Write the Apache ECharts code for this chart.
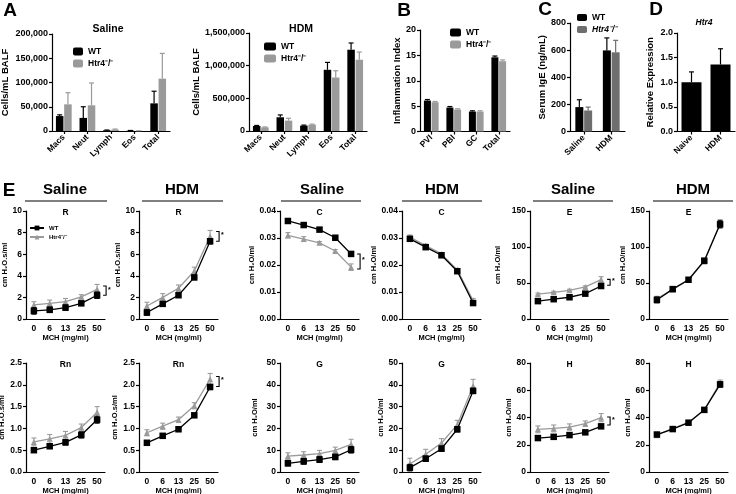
<!DOCTYPE html>
<html><head><meta charset="utf-8">
<script src="https://cdn.jsdelivr.net/npm/echarts@6/dist/echarts.min.js"></script>
<style>html,body{margin:0;padding:0;background:#fff}#c{width:736px;height:494px}</style>
</head><body><div id="c"></div><script>
// ---------------- DATA ----------------
// Panel A (cells / mL BALF)
const cellCats = ['Macs', 'Neut', 'Lymph', 'Eos', 'Total'];
const salineWT = [30800, 27000, 1500, 800, 57000];
const salineWTErr = [2500, 23000, 500, 300, 25000];
const salineKO = [55000, 53000, 3000, 300, 108000];
const salineKOErr = [24000, 46000, 1000, 200, 52000];
const hdmWT = [77000, 210000, 82000, 937000, 1244000];
const hdmWTErr = [8000, 36000, 8000, 113000, 103000];
const hdmKO = [56000, 159000, 97000, 819000, 1091000];
const hdmKOErr = [6000, 36000, 8000, 103000, 117000];
// Panel B (inflammation index)
const inflCats = ['PVI', 'PBI', 'GC', 'Total'];
const inflWT = [6.1, 4.72, 3.93, 14.62];
const inflWTErr = [0.2, 0.2, 0.15, 0.25];
const inflKO = [5.77, 4.33, 3.93, 13.85];
const inflKOErr = [0.15, 0.15, 0.15, 0.25];
// Panel C (serum IgE)
const igeCats = ['Saline', 'HDM'];
const igeWT = [180, 598];
const igeWTErr = [54, 92];
const igeKO = [155, 584];
const igeKOErr = [25, 88];
// Panel D (Htr4 relative expression)
const exprCats = ['Naive', 'HDM'];
const expr = [1.0, 1.36];
const exprErr = [0.21, 0.32];
// Panel E (lung mechanics vs MCH dose)
const mchDoses = ['0', '6', '13', '25', '50'];
const rSalWT = [0.75, 0.85, 1.05, 1.45, 2.2],   rSalWTErr = [0.3, 0.25, 0.25, 0.2, 0.3];
const rSalKO = [1.3, 1.45, 1.6, 2.05, 2.75],    rSalKOErr = [0.3, 0.3, 0.3, 0.2, 0.45];
const rHdmWT = [0.6, 1.4, 2.2, 3.85, 7.2],      rHdmWTErr = [0.25, 0.2, 0.15, 0.2, 0.25];
const rHdmKO = [1.2, 2.0, 2.85, 4.45, 7.65],    rHdmKOErr = [0.35, 0.35, 0.3, 0.35, 0.55];
const cSalWT = [0.0363, 0.0348, 0.0331, 0.0301, 0.0241], cSalWTErr = [0.0005, 0.0005, 0.0004, 0.0004, 0.0008];
const cSalKO = [0.031, 0.0296, 0.0282, 0.0252, 0.0192],  cSalKOErr = [0.001, 0.0009, 0.0005, 0.0005, 0.0012];
const cHdmWT = [0.0297, 0.0266, 0.0236, 0.0177, 0.0059], cHdmWTErr = [0.0007, 0.0005, 0.0005, 0.0006, 0.0008];
const cHdmKO = [0.0303, 0.0272, 0.0241, 0.0182, 0.0068], cHdmKOErr = [0.0008, 0.0005, 0.0005, 0.0005, 0.0008];
const eSalWT = [24.8, 27.5, 30.2, 35.2, 45.8],  eSalWTErr = [1.5, 1.5, 1.5, 1.5, 2];
const eSalKO = [34.5, 37, 39.8, 44.5, 54.8],    eSalKOErr = [1.5, 1.5, 1.5, 1.5, 4];
const eHdmWT = [26.5, 41.5, 54.5, 81, 131.5],   eHdmWTErr = [4, 3, 3, 3, 5];
const eHdmKO = [28.5, 41, 54, 80, 133],         eHdmKOErr = [3, 3, 3, 3, 5];
const rnSalWT = [0.5, 0.59, 0.68, 0.85, 1.2],   rnSalWTErr = [0.05, 0.05, 0.06, 0.07, 0.08];
const rnSalKO = [0.69, 0.76, 0.84, 1.02, 1.37], rnSalKOErr = [0.09, 0.1, 0.09, 0.08, 0.13];
const rnHdmWT = [0.67, 0.83, 0.98, 1.3, 1.95],  rnHdmWTErr = [0.04, 0.04, 0.03, 0.04, 0.06];
const rnHdmKO = [0.9, 1.05, 1.2, 1.52, 2.13],   rnHdmKOErr = [0.07, 0.07, 0.06, 0.07, 0.13];
const gSalWT = [4.0, 4.9, 5.7, 6.9, 10.2],      gSalWTErr = [1.2, 1.3, 1.3, 1.2, 1.5];
const gSalKO = [7.3, 7.8, 8.4, 9.9, 12.7],      gSalKOErr = [1.5, 1.5, 1.5, 1.5, 2.3];
const gHdmWT = [2.0, 6.1, 10.7, 19.6, 37.2],    gHdmWTErr = [1.5, 1.2, 1.2, 1.2, 1.2];
const gHdmKO = [3.8, 8.1, 13.3, 21.7, 39.5],    gHdmKOErr = [2.5, 2.3, 2, 2, 3];
const hSalWT = [24.9, 25.8, 27.1, 29.1, 33.5],  hSalWTErr = [1.5, 1.5, 1.2, 1.2, 1.5];
const hSalKO = [31.3, 32.0, 33.0, 35.5, 39.9],  hSalKOErr = [2.5, 2.5, 2.3, 2, 3];
const hHdmWT = [27.5, 31.5, 36.2, 45.6, 64.3],  hHdmWTErr = [1.5, 1, 1, 1, 2];
const hHdmKO = [27, 32, 36.3, 45.5, 65.5],      hHdmKOErr = [1.5, 1, 1, 1, 2];
// significance brackets (value range spanned at the 50 mg/ml dose)
const rSalSig = [2.2, 3.05];
const rHdmSig = [7.2, 8.1];
const cSalSig = [0.0185, 0.0241];
const eSalSig = [46.8, 55];
const rnHdmSig = [1.96, 2.19];
const hSalSig = [34.5, 40.4];

// ---------------- BUILD ----------------
const FONT = 'Liberation Sans';
const grids = [], xAxes = [], yAxes = [], series = [], graphics = [];
const AX = {lineStyle: {color: '#000', width: 1.2}};

function addGrid(left, top, width, height) {
  grids.push({left, top, width, height, outerBoundsMode: 'none', containLabel: false});
  return grids.length - 1;
}
function yAxisDef(gi, min, max, interval, fmt, name, nameGap, nameSize, lblSize) {
  return {
    type: 'value', gridIndex: gi, min, max, interval,
    splitLine: {show: false},
    axisLine: {show: true, ...AX},
    axisTick: {show: true, length: 3, lineStyle: {color: '#000', width: 1.2}},
    axisLabel: {formatter: fmt, color: '#000', fontSize: lblSize, fontWeight: 'bold', fontFamily: FONT, margin: 4},
    name, nameLocation: 'middle', nameGap,
    nameTextStyle: {color: '#000', fontSize: nameSize, fontWeight: 'bold', fontFamily: FONT}
  };
}
function barErr(off, color, cap) {
  return function (params, api) {
    const i = api.value(0), v = api.value(1), e = api.value(2);
    const p0 = api.coord([i, v]), p1 = api.coord([i, v + e]);
    const x = p0[0] + off;
    return {type: 'group', children: [
      {type: 'line', shape: {x1: x, y1: p0[1], x2: x, y2: p1[1]}, style: {stroke: color, lineWidth: 1.2}},
      {type: 'line', shape: {x1: x - cap, y1: p1[1], x2: x + cap, y2: p1[1]}, style: {stroke: color, lineWidth: 1.2}}
    ]};
  };
}
function barPanel(gi, cats, groups, barWidth, yDef) {
  xAxes.push({
    type: 'category', gridIndex: gi, data: cats,
    axisLine: {show: true, ...AX},
    axisTick: {show: true, alignWithLabel: true, length: 3, lineStyle: {color: '#000', width: 1.2}},
    axisLabel: {rotate: 45, interval: 0, color: '#000', fontSize: 8.5, fontWeight: 'bold', fontFamily: FONT, margin: 5}
  });
  yAxes.push(yDef);
  const gap = barWidth * 0.1;
  const n = groups.length;
  groups.forEach((g, k) => {
    const off = n === 1 ? 0 : (k === 0 ? -1 : 1) * (barWidth + gap) / 2;
    series.push({type: 'bar', name: g.name, xAxisIndex: gi, yAxisIndex: gi, data: g.data,
      barWidth, barGap: '10%', itemStyle: {color: g.color}, z: 2});
    series.push({type: 'custom', xAxisIndex: gi, yAxisIndex: gi, z: 3,
      data: g.data.map((v, i) => [i, v, g.err[i]]), renderItem: barErr(off, g.color, 2.5)});
  });
}
function lineErr(color) {
  return function (params, api) {
    const i = api.value(0), v = api.value(1), e = api.value(2);
    const pT = api.coord([i, v + e]), pB = api.coord([i, v - e]);
    const x = pT[0], c = 2.5;
    return {type: 'group', children: [
      {type: 'line', shape: {x1: x, y1: pB[1], x2: x, y2: pT[1]}, style: {stroke: color, lineWidth: 1.1}},
      {type: 'line', shape: {x1: x - c, y1: pT[1], x2: x + c, y2: pT[1]}, style: {stroke: color, lineWidth: 1.1}},
      {type: 'line', shape: {x1: x - c, y1: pB[1], x2: x + c, y2: pB[1]}, style: {stroke: color, lineWidth: 1.1}}
    ]};
  };
}
function bracketRender(params, api) {
  const p1 = api.coord([api.value(0), api.value(1)]), p2 = api.coord([api.value(0), api.value(2)]);
  const x = p1[0] + 9;
  return {type: 'group', children: [
    {type: 'polyline', shape: {points: [[x - 3, p1[1]], [x, p1[1]], [x, p2[1]], [x - 3, p2[1]]]},
      style: {stroke: '#000', lineWidth: 1.1, fill: null}},
    {type: 'text', style: {x: x + 2, y: (p1[1] + p2[1]) / 2 - 1, text: '*', fontSize: 7, fontWeight: 'bold',
      fontFamily: FONT, fill: '#000', verticalAlign: 'middle'}}
  ]};
}
const KO_C = '#9a9a9a';
function linePanel(gi, title, yName, min, max, interval, dec, wt, wtErr, ko, koErr, nameGap, sig) {
  xAxes.push({
    type: 'category', gridIndex: gi, data: mchDoses,
    axisLine: {show: true, ...AX}, axisTick: {show: false},
    axisLabel: {interval: 0, color: '#000', fontSize: 8.5, fontWeight: 'bold', fontFamily: FONT, margin: 5},
    name: 'MCH (mg/ml)', nameLocation: 'middle', nameGap: 14,
    nameTextStyle: {color: '#000', fontSize: 7.5, fontWeight: 'bold', fontFamily: FONT}
  });
  yAxes.push(yAxisDef(gi, min, max, interval, v => v.toFixed(dec), yName, nameGap, 7.5, 8.5));
  series.push({type: 'custom', xAxisIndex: gi, yAxisIndex: gi, z: 2,
    data: ko.map((v, i) => [i, v, koErr[i]]), renderItem: lineErr(KO_C)});
  series.push({type: 'line', name: 'Htr4_e', xAxisIndex: gi, yAxisIndex: gi, data: ko, z: 3,
    symbol: 'triangle', symbolSize: 6, lineStyle: {color: KO_C, width: 1.3}, itemStyle: {color: KO_C}});
  series.push({type: 'custom', xAxisIndex: gi, yAxisIndex: gi, z: 4,
    data: wt.map((v, i) => [i, v, wtErr[i]]), renderItem: lineErr('#000')});
  series.push({type: 'line', name: 'WT_e', xAxisIndex: gi, yAxisIndex: gi, data: wt, z: 5,
    symbol: 'rect', symbolSize: 6.5, lineStyle: {color: '#000', width: 1.3}, itemStyle: {color: '#000'}});
  if (sig) {
    series.push({type: 'custom', xAxisIndex: gi, yAxisIndex: gi, z: 6,
      data: [[4, sig[0], sig[1]]], renderItem: bracketRender});
  }
  const g = grids[gi];
  graphics.push({type: 'text', x: g.left + g.width / 2, y: g.top + 2, style: {text: title, fontSize: 8.5,
    fontWeight: 'bold', fontFamily: FONT, fill: '#000', align: 'center', verticalAlign: 'middle'}});
}
const comma = v => v.toLocaleString('en-US');

// Panel A saline
let gi = addGrid(52, 34, 118, 97);
barPanel(gi, cellCats, [
  {name: 'WT', data: salineWT, err: salineWTErr, color: '#000'},
  {name: 'Htr4', data: salineKO, err: salineKOErr, color: KO_C}], 7.5,
  yAxisDef(gi, 0, 200000, 50000, comma, 'Cells/mL BALF', 42, 9.5, 9));
// Panel A HDM
gi = addGrid(249, 33, 118, 98);
barPanel(gi, cellCats, [
  {name: 'WT', data: hdmWT, err: hdmWTErr, color: '#000'},
  {name: 'Htr4', data: hdmKO, err: hdmKOErr, color: KO_C}], 7.5,
  yAxisDef(gi, 0, 1500000, 500000, comma, 'Cells/mL BALF', 44, 9.5, 9));
// Panel B
gi = addGrid(420, 30, 90, 101.5);
barPanel(gi, inflCats, [
  {name: 'WT', data: inflWT, err: inflWTErr, color: '#000'},
  {name: 'Htr4', data: inflKO, err: inflKOErr, color: KO_C}], 7,
  yAxisDef(gi, 0, 20, 5, v => String(v), 'Inflammation Index', 13, 9.5, 9));
// Panel C
gi = addGrid(570, 23, 55, 108.5);
barPanel(gi, igeCats, [
  {name: 'WT_c', data: igeWT, err: igeWTErr, color: '#000'},
  {name: 'Htr4_c', data: igeKO, err: igeKOErr, color: '#6e6e6e'}], 8,
  yAxisDef(gi, 0, 800, 200, v => String(v), 'Serum IgE (ng/mL)', 17, 9.5, 9));
// Panel D
gi = addGrid(677, 33, 58, 98.5);
barPanel(gi, exprCats, [
  {name: 'expr', data: expr, err: exprErr, color: '#000'}], 20,
  yAxisDef(gi, 0, 2, 0.5, v => v.toFixed(1), 'Relative Expression', 22, 9.5, 9));

// Panel E
const colLefts = [26, 139, 280, 402, 530, 649];
const nRs = 'cm H₂O.s/ml', nC = 'cm H₂O/ml';
gi = addGrid(colLefts[0], 211, 79, 108); linePanel(gi, 'R', nRs, 0, 10, 2, 0, rSalWT, rSalWTErr, rSalKO, rSalKOErr, 13, rSalSig);
gi = addGrid(colLefts[1], 211, 79, 108); linePanel(gi, 'R', nRs, 0, 10, 2, 0, rHdmWT, rHdmWTErr, rHdmKO, rHdmKOErr, 8, rHdmSig);
gi = addGrid(colLefts[2], 211, 79, 108); linePanel(gi, 'C', nC, 0, 0.04, 0.01, 2, cSalWT, cSalWTErr, cSalKO, cSalKOErr, 23, cSalSig);
gi = addGrid(colLefts[3], 211, 79, 108); linePanel(gi, 'C', nC, 0, 0.04, 0.01, 2, cHdmWT, cHdmWTErr, cHdmKO, cHdmKOErr, 24, null);
gi = addGrid(colLefts[4], 211, 79, 108); linePanel(gi, 'E', nC, 0, 150, 50, 0, eSalWT, eSalWTErr, eSalKO, eSalKOErr, 28, eSalSig);
gi = addGrid(colLefts[5], 211, 79, 108); linePanel(gi, 'E', nC, 0, 150, 50, 0, eHdmWT, eHdmWTErr, eHdmKO, eHdmKOErr, 15, null);
gi = addGrid(colLefts[0], 363, 79, 109); linePanel(gi, 'Rn', nRs, 0, 2.5, 0.5, 1, rnSalWT, rnSalWTErr, rnSalKO, rnSalKOErr, 16, null);
gi = addGrid(colLefts[1], 363, 79, 109); linePanel(gi, 'Rn', nRs, 0, 2.5, 0.5, 1, rnHdmWT, rnHdmWTErr, rnHdmKO, rnHdmKOErr, 8, rnHdmSig);
gi = addGrid(colLefts[2], 363, 79, 109); linePanel(gi, 'G', nC, 0, 50, 10, 0, gSalWT, gSalWTErr, gSalKO, gSalKOErr, 21, null);
gi = addGrid(colLefts[3], 363, 79, 109); linePanel(gi, 'G', nC, 0, 50, 10, 0, gHdmWT, gHdmWTErr, gHdmKO, gHdmKOErr, 15, null);
gi = addGrid(colLefts[4], 363, 79, 109); linePanel(gi, 'H', nC, 0, 80, 20, 0, hSalWT, hSalWTErr, hSalKO, hSalKOErr, 14, hSalSig);
gi = addGrid(colLefts[5], 363, 79, 109); linePanel(gi, 'H', nC, 0, 80, 20, 0, hHdmWT, hHdmWTErr, hHdmKO, hHdmKOErr, 17, null);

// Text annotations
function txt(x, y, text, size, extra) {
  graphics.push({type: 'text', x, y, style: Object.assign({text, fontSize: size, fontWeight: 'bold',
    fontFamily: FONT, fill: '#000', align: 'center', verticalAlign: 'middle'}, extra || {})});
}
txt(10, 11, 'A', 19); txt(404, 11, 'B', 19); txt(545, 10, 'C', 19); txt(656, 10, 'D', 19); txt(9, 191, 'E', 19);
txt(108, 29, 'Saline', 10.5); txt(301, 29, 'HDM', 10.5);
txt(704, 23, 'Htr4', 8.5, {fontStyle: 'italic'});
const headers = [['Saline', 65, 25, 107], ['HDM', 182, 142, 223], ['Saline', 322, 281, 361],
  ['HDM', 442, 402, 482], ['Saline', 573, 533, 613], ['HDM', 693, 653, 733]];
headers.forEach(h => {
  txt(h[1], 190, h[0], 15);
  graphics.push({type: 'line', shape: {x1: h[2], y1: 201, x2: h[3], y2: 201}, style: {stroke: '#000', lineWidth: 1.2}});
});

const legendText = {WT: 'WT', Htr4: 'Htr4⁻/⁻', WT_c: 'WT', Htr4_c: 'Htr4⁻/⁻', WT_e: 'WT', Htr4_e: 'Htr4⁻/⁻'};
const legTS = {color: '#000', fontSize: 8, fontWeight: 'bold', fontFamily: FONT};
function legend(left, top, names, w, h, gap, fs, extra) {
  return Object.assign({left, top, orient: 'vertical', itemWidth: w, itemHeight: h, itemGap: gap, padding: 0,
    data: names, formatter: n => legendText[n], textStyle: Object.assign({}, legTS, {fontSize: fs}), selectedMode: false}, extra || {});
}

const option = {
  animation: false,
  backgroundColor: '#fff',
  grid: grids, xAxis: xAxes, yAxis: yAxes, series,
  legend: [
    legend(73, 47, ['WT', 'Htr4'], 10, 8, 3, 8.5),
    legend(264, 42, ['WT', 'Htr4'], 12, 8, 3, 8.5),
    legend(450, 28, ['WT', 'Htr4'], 11, 8, 3, 8.5),
    legend(577, 13, ['WT_c', {name: 'Htr4_c', textStyle: {fontStyle: 'italic'}}], 10, 7, 3, 8.5),
    legend(29, 225, ['WT_e', 'Htr4_e'], 14, 6, 3, 6)
  ],
  graphic: graphics
};
const chart = echarts.init(document.getElementById('c'), null, {renderer: 'canvas'});
chart.setOption(option);
</script></body></html>
